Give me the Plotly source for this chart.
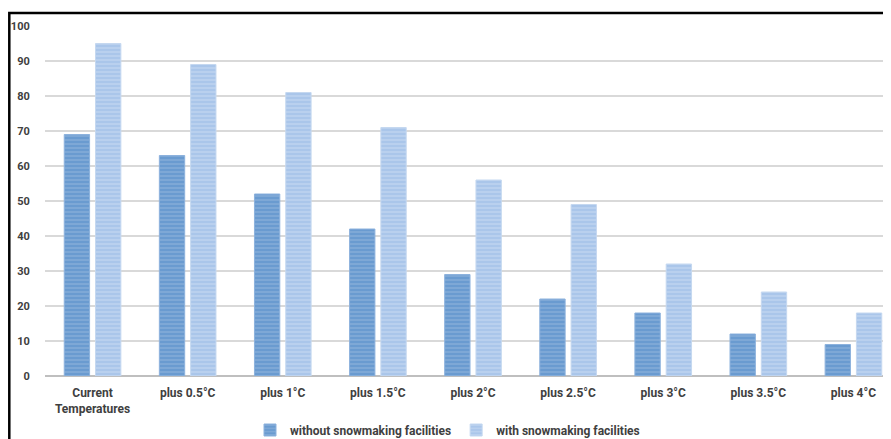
import plotly.graph_objects as go

categories = ["Current<br>Temperatures", "plus 0.5°C", "plus 1°C", "plus 1.5°C", "plus 2°C",
              "plus 2.5°C", "plus 3°C", "plus 3.5°C", "plus 4°C"]
without_snow = [69, 63, 52, 42, 29, 22, 18, 12, 9]
with_snow = [95, 89, 81, 71, 56, 49, 32, 24, 18]
y_ticks = [0, 10, 20, 30, 40, 50, 60, 70, 80, 90, 100]

# page body has an 8px margin; coordinates below are in screen pixels
OFF = 8
W, H = 891, 439
L, R, T, B = 45 - OFF, 0, 26 - OFF, H - (376 - OFF)
pw, ph = W - L - R, H - T - B

font_y = dict(family="Roboto", size=11, color="#404040", weight="bold")
font_x = dict(family="Roboto", size=12, color="#404040", weight="bold")

fig = go.Figure()
fig.add_trace(go.Bar(
    x=categories, y=without_snow, name="without snowmaking facilities",
    marker=dict(color="#6a9bd0", line=dict(color="#8db2dd", width=1),
                pattern=dict(shape="-", bgcolor="#6a9bd0", fgcolor="#a2c0e3",
                             size=4, solidity=0.35, fillmode="overlay")),
))
fig.add_trace(go.Bar(
    x=categories, y=with_snow, name="with snowmaking facilities",
    marker=dict(color="#aac6ea", line=dict(color="#c5d8f0", width=1),
                pattern=dict(shape="-", bgcolor="#aac6ea", fgcolor="#d4e3f5",
                             size=4, solidity=0.35, fillmode="overlay")),
))

def px(x):
    return (x - OFF - L) / pw

def py(y):
    return (H - B - (y - OFF)) / ph

fig.add_shape(type="path", xref="paper", yref="paper",
              path=f"M {px(9.3)} {py(460)} L {px(9.3)} {py(13)} L {px(920)} {py(13)}",
              line=dict(color="black", width=2.5))

fig.update_layout(
    width=W, height=H,
    margin=dict(l=L, r=R, t=T, b=B),
    paper_bgcolor="white", plot_bgcolor="white",
    barmode="group", bargap=0.342, bargroupgap=0.19,
    font=font_y,
    showlegend=True,
    legend=dict(orientation="h", x=px(250), xanchor="left", y=py(430), yanchor="middle",
                font=dict(family="Roboto", size=12, color="#404040", weight="bold"),
                itemwidth=30, tracegroupgap=0),
    xaxis=dict(range=[-0.5, 8.479], showgrid=False, showline=False, zeroline=False,
               ticks="outside", ticklen=6, tickcolor="rgba(0,0,0,0)",
               tickfont=font_x, fixedrange=True),
    yaxis=dict(range=[0, 100], tickvals=y_ticks, showgrid=True, gridcolor="#d9d9d9",
               gridwidth=1.5, zeroline=True, zerolinecolor="#bfbfbf", zerolinewidth=2,
               showline=False, ticks="outside", ticklen=12, tickcolor="rgba(0,0,0,0)",
               tickfont=font_y, fixedrange=True),
)

fig.write_html("out.html")
